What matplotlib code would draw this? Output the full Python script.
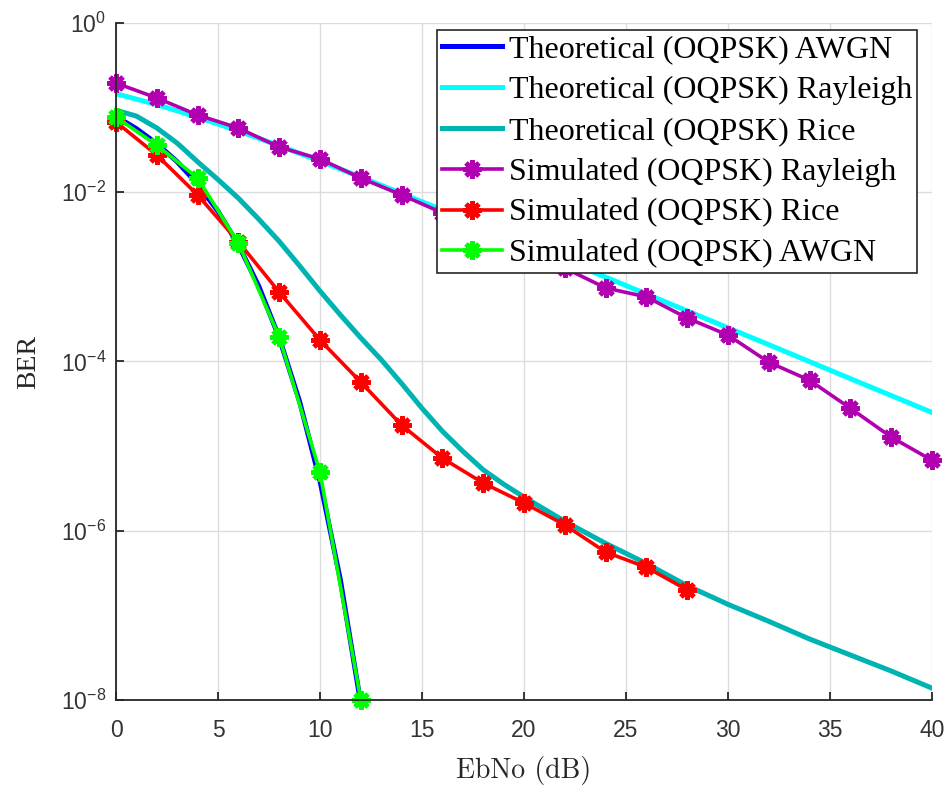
import numpy as np
import matplotlib
matplotlib.use("Agg")
import matplotlib.pyplot as plt

plt.rcParams["font.family"] = "Liberation Sans"
plt.rcParams["mathtext.fontset"] = "custom"
plt.rcParams["mathtext.rm"] = "Liberation Sans"
plt.rcParams["mathtext.it"] = "Liberation Sans:italic"

# Eb/No grids (dB)
ebno_1db = np.arange(0, 13, 1)
ebno_2db = np.arange(0, 41, 2)
ebno_rice_th = np.concatenate([np.arange(0, 21, 1), np.arange(22, 41, 2)])
ebno_rice_sim = np.arange(0, 29, 2)
ebno_awgn_sim = np.arange(0, 13, 2)

# theoretical curves
ber_awgn_th = [7.86e-2, 5.63e-2, 3.75e-2, 2.29e-2, 1.25e-2, 5.95e-3, 2.39e-3,
               7.73e-4, 1.91e-4, 3.36e-5, 3.87e-6, 2.61e-7, 9.0e-9]
ber_rayleigh_th = [0.146, 0.1085, 0.0771, 0.0530, 0.0355, 0.0233, 0.0151,
                   9.66e-3, 6.17e-3, 3.92e-3, 2.48e-3, 1.57e-3, 9.93e-4,
                   6.27e-4, 3.96e-4, 2.50e-4, 1.58e-4, 9.95e-5, 6.27e-5,
                   3.96e-5, 2.50e-5]
ber_rice_th = [0.0933, 0.0794, 0.0575, 0.038, 0.0229, 0.0141, 8.5e-3, 4.8e-3,
               2.63e-3, 1.35e-3, 6.8e-4, 3.55e-4, 1.9e-4, 1.05e-4, 5.5e-5,
               2.8e-5, 1.5e-5, 8.7e-6, 5.25e-6, 3.55e-6, 2.5e-6,
               1.29e-6, 7.1e-7, 4.1e-7, 2.24e-7, 1.35e-7, 8.5e-8, 5.25e-8,
               3.4e-8, 2.2e-8, 1.38e-8]

# simulated curves
ber_rayleigh_sim = [0.195, 0.130, 0.0818, 0.0574, 0.0342, 0.0247, 0.0147,
                    9.3e-3, 5.7e-3, 3.5e-3, 2.1e-3, 1.27e-3, 7.4e-4, 5.8e-4,
                    3.26e-4, 2.05e-4, 9.8e-5, 6.0e-5, 2.8e-5, 1.28e-5, 6.8e-6]
ber_rice_sim = [0.0676, 0.0275, 9.3e-3, 2.6e-3, 6.6e-4, 1.79e-4, 5.7e-5,
                1.77e-5, 7.2e-6, 3.66e-6, 2.13e-6, 1.17e-6, 5.6e-7, 3.7e-7,
                2.0e-7]
ber_awgn_sim = [0.077, 0.036, 0.0147, 2.5e-3, 1.95e-4, 4.9e-6, 1.0e-8]

fig = plt.figure(figsize=(9.51, 7.85), dpi=100)
ax = fig.add_axes([0.122, 0.1083, 0.858, 0.8624])

TH_LW = 3.6
SIM_LW = 2.6
star = (8, 2, 0)
mk = dict(marker=star, markersize=13, markeredgewidth=3.4, clip_on=False)

ax.semilogy(ebno_1db, ber_awgn_th, color="#0000ff", lw=TH_LW,
            label="Theoretical (OQPSK) AWGN")
ax.semilogy(ebno_2db, ber_rayleigh_th, color="#00ffff", lw=TH_LW,
            label="Theoretical (OQPSK) Rayleigh")
ax.semilogy(ebno_rice_th, ber_rice_th, color="#00b3b3", lw=TH_LW,
            label="Theoretical (OQPSK) Rice")
ax.semilogy(ebno_2db, ber_rayleigh_sim, color="#b000b0", lw=SIM_LW,
            label="Simulated (OQPSK) Rayleigh", **mk)
ax.semilogy(ebno_rice_sim, ber_rice_sim, color="#ff0000", lw=SIM_LW,
            label="Simulated (OQPSK) Rice", **mk)
ax.semilogy(ebno_awgn_sim, ber_awgn_sim, color="#00ff00", lw=SIM_LW,
            label="Simulated (OQPSK) AWGN", **mk)

ax.set_xlim(0, 40)
ax.set_ylim(1e-8, 1)
ax.set_xticks(np.arange(0, 41, 5))
ax.set_yticks([1e-8, 1e-6, 1e-4, 1e-2, 1e0])
ax.minorticks_off()
ax.grid(True, color="#dcdcdc", lw=1.0)
ax.set_axisbelow(True)

for side in ("top", "right"):
    ax.spines[side].set_visible(False)
for side in ("left", "bottom"):
    ax.spines[side].set_color("#262626")
    ax.spines[side].set_linewidth(1.3)

ax.tick_params(direction="in", length=6, width=1.3, color="#262626",
               labelcolor="#333333", labelsize=16.5)
ax.tick_params(axis="x", pad=14)
ax.tick_params(axis="y", pad=7)

ax.set_xlabel("EbNo (dB)", family="cmr10", fontsize=20, color="#262626",
              labelpad=10)
ax.set_ylabel("BER", family="Liberation Serif", fontsize=20, color="#262626",
              labelpad=14)

leg = ax.legend(loc="upper right", bbox_to_anchor=(0.9816, 0.9897),
                borderaxespad=0, handlelength=1.9,
                handletextpad=0.2, labelspacing=0.36, borderpad=0.15,
                fancybox=False, framealpha=1, edgecolor="#262626",
                prop={"family": "Liberation Serif", "size": 23})
leg.get_frame().set_linewidth(1.2)

fig.savefig("out.png", dpi=100)
